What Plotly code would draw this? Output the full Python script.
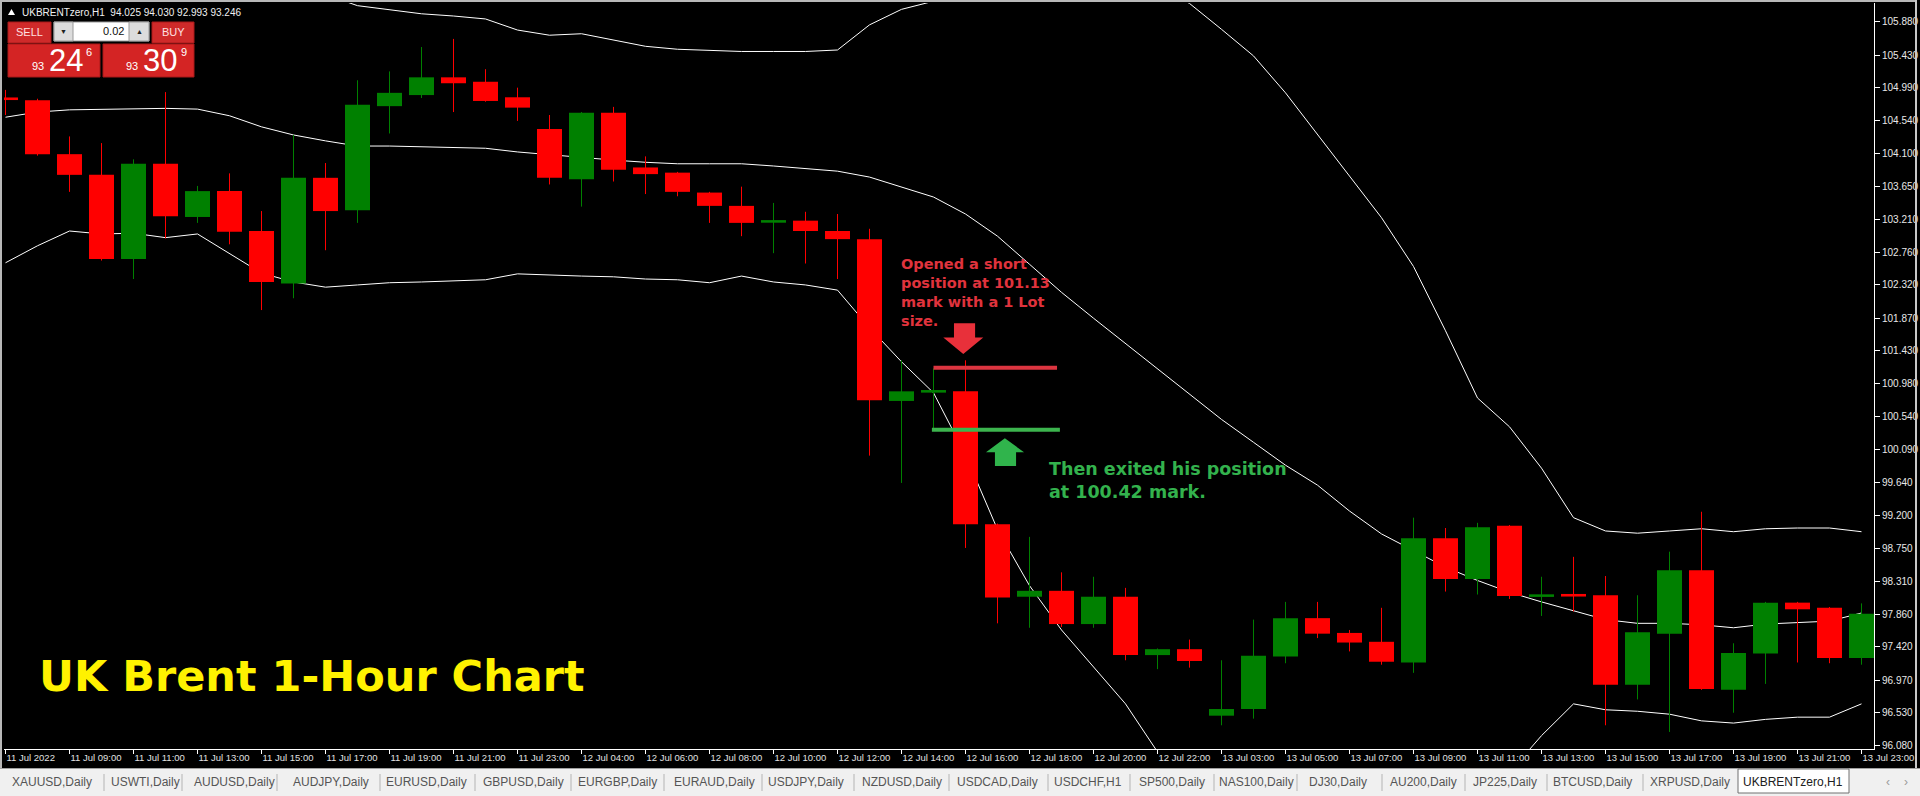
import plotly.graph_objects as go

# ---------------- data ----------------
tick_labels = ["11 Jul 2022", "11 Jul 09:00", "11 Jul 11:00", "11 Jul 13:00", "11 Jul 15:00",
               "11 Jul 17:00", "11 Jul 19:00", "11 Jul 21:00", "11 Jul 23:00", "12 Jul 04:00",
               "12 Jul 06:00", "12 Jul 08:00", "12 Jul 10:00", "12 Jul 12:00", "12 Jul 14:00",
               "12 Jul 16:00", "12 Jul 18:00", "12 Jul 20:00", "12 Jul 22:00", "13 Jul 03:00",
               "13 Jul 05:00", "13 Jul 07:00", "13 Jul 09:00", "13 Jul 11:00", "13 Jul 13:00",
               "13 Jul 15:00", "13 Jul 17:00", "13 Jul 19:00", "13 Jul 21:00", "13 Jul 23:00"]

price_ticks = [105.880, 105.430, 104.990, 104.540, 104.100, 103.650, 103.210, 102.760, 102.320,
               101.870, 101.430, 100.980, 100.540, 100.090, 99.640, 99.200, 98.750, 98.310,
               97.860, 97.420, 96.970, 96.530, 96.080]

open_ = [104.85, 104.82, 104.09, 103.81, 102.67, 103.96, 103.24, 103.59, 103.05, 102.34,
         103.77, 103.33, 104.74, 104.89, 105.13, 105.07, 104.86, 104.43, 103.75, 104.65,
         103.91, 103.84, 103.57, 103.39, 103.17, 103.19, 103.05, 102.94, 100.75, 100.87,
         100.88, 99.08, 98.10, 98.18, 97.73, 98.10, 97.31, 97.39, 96.49, 96.58,
         97.29, 97.81, 97.61, 97.49, 97.21, 98.89, 98.34, 99.06, 98.11, 98.13,
         98.12, 96.91, 97.60, 98.46, 96.84, 97.33, 98.02, 97.95, 97.27]
high_ = [104.96, 104.84, 104.33, 104.24, 104.02, 104.93, 103.66, 103.83, 103.32, 104.35,
         103.97, 105.09, 105.21, 105.54, 105.65, 105.24, 104.99, 104.62, 104.66, 104.73,
         104.06, 103.85, 103.58, 103.65, 103.43, 103.31, 103.28, 103.08, 101.30, 101.19,
         101.30, 99.09, 98.91, 98.43, 98.37, 98.22, 97.40, 97.52, 97.24, 97.79,
         98.03, 98.03, 97.65, 97.95, 99.17, 99.03, 99.10, 99.07, 98.37, 98.64,
         98.38, 98.12, 98.71, 99.25, 97.47, 98.03, 98.03, 97.96, 98.01]
low_ = [104.62, 104.07, 103.58, 102.65, 102.40, 102.95, 103.16, 102.87, 101.98, 102.14,
        102.79, 103.16, 104.37, 104.85, 104.66, 104.80, 104.54, 103.68, 103.38, 103.72,
        103.55, 103.52, 103.16, 102.98, 102.75, 102.61, 102.40, 100.01, 99.64, 100.35,
        98.76, 97.74, 97.68, 97.69, 97.68, 97.24, 97.12, 97.14, 96.36, 96.45,
        97.20, 97.54, 97.36, 97.18, 97.07, 98.17, 98.13, 98.07, 97.84, 97.90,
        96.36, 96.71, 96.27, 96.84, 96.53, 96.92, 97.21, 97.20, 97.18]
close_ = [104.83, 104.09, 103.81, 102.67, 103.96, 103.25, 103.59, 103.04, 102.36, 103.77,
          103.32, 104.76, 104.92, 105.13, 105.05, 104.81, 104.72, 103.77, 104.65, 103.88,
          103.82, 103.58, 103.39, 103.16, 103.19, 103.05, 102.94, 100.76, 100.88, 100.89,
          99.08, 98.09, 98.18, 97.73, 98.10, 97.31, 97.39, 97.23, 96.58, 97.30,
          97.81, 97.60, 97.48, 97.22, 98.89, 98.34, 99.04, 98.11, 98.12, 98.11,
          96.91, 97.62, 98.46, 96.85, 97.34, 98.02, 97.93, 97.27, 97.87]

bb_upper = [106.56, 106.47, 106.33, 106.39, 106.40, 106.46, 106.39, 106.48, 106.44, 106.34,
            106.25, 106.10, 106.04, 105.99, 105.96, 105.92, 105.77, 105.70, 105.72, 105.63,
            105.55, 105.51, 105.49, 105.48, 105.48, 105.48, 105.50, 105.84, 106.05, 106.16,
            106.54, 106.95, 106.95, 106.79, 106.59, 106.41, 106.36, 106.13, 105.78, 105.42,
            104.92, 104.36, 103.79, 103.23, 102.57, 101.70, 100.79, 100.40, 99.84, 99.17,
            98.99, 98.96, 98.99, 99.02, 98.98, 99.02, 99.03, 99.03, 98.98]
bb_middle = [104.59, 104.66, 104.69, 104.70, 104.71, 104.71, 104.70, 104.61, 104.46, 104.35,
             104.27, 104.20, 104.20, 104.19, 104.18, 104.17, 104.12, 104.08, 104.05, 104.01,
             103.98, 103.96, 103.96, 103.96, 103.93, 103.89, 103.86, 103.78, 103.64, 103.51,
             103.28, 102.98, 102.60, 102.22, 101.87, 101.53, 101.18, 100.84, 100.50, 100.19,
             99.88, 99.61, 99.26, 98.95, 98.73, 98.50, 98.32, 98.16, 98.03, 97.91,
             97.79, 97.74, 97.74, 97.72, 97.68, 97.73, 97.75, 97.77, 97.88]
bb_lower = [102.62, 102.85, 103.05, 103.01, 103.02, 102.96, 103.01, 102.74, 102.48, 102.36,
            102.29, 102.32, 102.35, 102.36, 102.37, 102.39, 102.47, 102.45, 102.44, 102.43,
            102.40, 102.39, 102.35, 102.44, 102.36, 102.32, 102.25, 101.74, 101.28, 100.86,
            100.02, 99.01, 98.25, 97.65, 97.15, 96.65, 96.00, 95.55, 95.22, 94.96,
            94.84, 94.86, 94.73, 94.67, 94.89, 95.26, 95.55, 95.72, 96.22, 96.65,
            96.57, 96.55, 96.51, 96.42, 96.39, 96.44, 96.47, 96.47, 96.65]

entry_price_drawn = 101.20   # red horizontal line (labelled 101.13)
exit_price_drawn = 100.36    # green horizontal line (labelled 100.42)

tabs = ["XAUUSD,Daily", "USWTI,Daily", "AUDUSD,Daily", "AUDJPY,Daily", "EURUSD,Daily",
        "GBPUSD,Daily", "EURGBP,Daily", "EURAUD,Daily", "USDJPY,Daily", "NZDUSD,Daily",
        "USDCAD,Daily", "USDCHF,H1", "SP500,Daily", "NAS100,Daily", "DJ30,Daily",
        "AU200,Daily", "JP225,Daily", "BTCUSD,Daily", "XRPUSD,Daily", "UKBRENTzero,H1"]

# ---------------- layout geometry ----------------
W, H = 1920, 796
L, R, T, B = 4, 1874, 3, 749
RED = "#ff0000"
GREEN = "#008000"
n = len(open_)
xs = list(range(n))


def PX(x):
    return (x - L) / (R - L)


def PY(y):
    return (B - y) / (B - T)


fig = go.Figure()

# Bollinger bands
for band in (bb_upper, bb_middle, bb_lower):
    fig.add_trace(go.Scatter(x=xs, y=band, mode="lines", line=dict(color="white", width=1),
                             hoverinfo="skip", showlegend=False))

# wicks and bodies
MIN_BODY = 0.035
for up, col in ((False, RED), (True, GREEN)):
    wx, wy, bx, by = [], [], [], []
    for i in xs:
        if (close_[i] > open_[i]) != up:
            continue
        wx += [i, i, None]
        wy += [low_[i], high_[i], None]
        lo, hi = min(open_[i], close_[i]), max(open_[i], close_[i])
        if hi - lo < MIN_BODY:
            mid = (hi + lo) / 2
            lo, hi = mid - MIN_BODY / 2, mid + MIN_BODY / 2
        bx += [i, i, None]
        by += [lo, hi, None]
    fig.add_trace(go.Scatter(x=wx, y=wy, mode="lines", line=dict(color=col, width=1),
                             hoverinfo="skip", showlegend=False))
    fig.add_trace(go.Scatter(x=bx, y=by, mode="lines", line=dict(color=col, width=25),
                             hoverinfo="skip", showlegend=False))

shapes = []
annotations = []

# trade lines
shapes.append(dict(type="line", xref="x", yref="y", x0=29.0, x1=32.86,
                   y0=entry_price_drawn, y1=entry_price_drawn,
                   line=dict(color="#dc3540", width=4)))
shapes.append(dict(type="line", xref="x", yref="y", x0=28.95, x1=32.95,
                   y0=exit_price_drawn, y1=exit_price_drawn,
                   line=dict(color="#3cb44e", width=4)))


def poly(pts):
    return "M " + " L ".join(f"{a},{b}" for a, b in pts) + " Z"


shapes.append(dict(type="path", xref="x", yref="y",
                   path=poly([(29.64, 101.80), (30.30, 101.80), (30.30, 101.61), (30.556, 101.61),
                              (29.93, 101.385), (29.306, 101.61), (29.64, 101.61)]),
                   fillcolor="#e8303a", line=dict(width=0)))
shapes.append(dict(type="path", xref="x", yref="y",
                   path=poly([(30.92, 99.87), (31.58, 99.87), (31.58, 100.055), (31.83, 100.055),
                              (31.23, 100.244), (30.64, 100.055), (30.92, 100.055)]),
                   fillcolor="#30b44c", line=dict(width=0)))

annotations.append(dict(xref="x", yref="y", x=27.91, y=102.739, xanchor="left", yanchor="top",
                        align="left", showarrow=False,
                        text="<b>Opened a short<br>position at 101.13<br>mark with a 1 Lot<br>size.</b>",
                        font=dict(family="DejaVu Sans", size=14.5, color="#e0333d")))
annotations.append(dict(xref="x", yref="y", x=32.56, y=99.991, xanchor="left", yanchor="top",
                        align="left", showarrow=False,
                        text="<b>Then exited his position<br>at 100.42 mark.</b>",
                        font=dict(family="DejaVu Sans", size=17.5, color="#33b24d")))

# chart title
annotations.append(dict(xref="paper", yref="paper", x=PX(37), y=PY(676), xanchor="left",
                        yanchor="middle", showarrow=False, text="<b>UK Brent 1-Hour Chart</b>",
                        font=dict(family="DejaVu Sans", size=43, color="#fff200")))


def rect(x0, y0, x1, y1, fill, line=None, lw=0):
    shapes.append(dict(type="rect", xref="paper", yref="paper", x0=PX(x0), x1=PX(x1),
                       y0=PY(y1), y1=PY(y0), fillcolor=fill,
                       line=dict(color=line or fill, width=lw), layer="above"))


def hline(x0, x1, y, color, w=1):
    shapes.append(dict(type="line", xref="paper", yref="paper", x0=PX(x0), x1=PX(x1),
                       y0=PY(y), y1=PY(y), line=dict(color=color, width=w)))


def vline(x, y0, y1, color, w=1):
    shapes.append(dict(type="line", xref="paper", yref="paper", x0=PX(x), x1=PX(x),
                       y0=PY(y0), y1=PY(y1), line=dict(color=color, width=w)))


def txt(x, y, s, size, color, anchor="center", family="Liberation Sans"):
    annotations.append(dict(xref="paper", yref="paper", x=PX(x), y=PY(y), text=s,
                            showarrow=False, xanchor=anchor, yanchor="middle",
                            font=dict(family=family, size=size, color=color)))


# window frame
hline(0, 1916, 1, "#b8b8b8", 2)
vline(1, 0, 768, "#b8b8b8", 2)
vline(1916, 0, 768, "#c8c8c8", 2)

# symbol info line
shapes.append(dict(type="path", xref="paper", yref="paper",
                   path=poly([(PX(8), PY(15)), (PX(15), PY(15)), (PX(11.5), PY(9))]),
                   fillcolor="white", line=dict(width=0)))
txt(20, 12, "UKBRENTzero,H1  94.025 94.030 92.993 93.246", 10, "#f0f0f0", anchor="left")

# one-click trading panel
rect(8, 22, 51, 43, "#cf2a2a", "#a81818", 1)
rect(152, 22, 194, 43, "#cf2a2a", "#a81818", 1)
rect(54, 22, 149, 41, "#ffffff", "#9a9a9a", 1)
rect(54, 22, 73, 41, "#dcdcdc", "#9a9a9a", 1)
rect(129, 22, 149, 41, "#dcdcdc", "#9a9a9a", 1)
rect(8, 44, 100, 77, "#d42424", "#a81818", 1)
rect(103, 44, 194, 77, "#d42424", "#a81818", 1)
txt(29.5, 32, "SELL", 11, "#ffe0e0")
txt(173, 32, "BUY", 11, "#ffe0e0")
txt(63.5, 31, "▼", 7, "#202020")
txt(139, 31, "▲", 7, "#202020")
txt(126, 31.5, "0.02", 11, "#101010", anchor="right")
txt(37.5, 66, "93", 11, "white")
txt(65.5, 60, "24", 31, "white")
txt(89, 52, "6", 11, "white")
txt(131.5, 66, "93", 11, "white")
txt(159.5, 60, "30", 31, "white")
txt(183.5, 52, "9", 11, "white")

# bottom tab bar
rect(0, 769, 1920, 796, "#f0f0f0")
hline(0, 1920, 768.5, "#a0a0a0", 1)
tab_centers = [52, 145, 234, 331, 426, 523, 617, 714, 806, 902,
               997, 1088, 1172, 1256, 1338, 1423, 1505, 1592, 1690, 1793]
seps = [104, 182, 277, 380, 475, 571, 664, 762, 854, 949, 1048, 1130, 1214, 1297,
        1382, 1465, 1547, 1643]
for s in seps:
    vline(s, 774, 791, "#b4b4b4", 1)
rect(1738, 769, 1849, 793, "#ffffff", "#707070", 1)
for name, cx in zip(tabs, tab_centers):
    txt(cx, 782, name, 12, "#202020" if name.startswith("UKBRENT") else "#555555")
txt(1888, 782, "‹", 12, "#9a9a9a")
txt(1906, 782, "›", 12, "#9a9a9a")

fig.update_layout(
    width=W, height=H, autosize=False,
    margin=dict(l=L, r=W - R, t=T, b=H - B, pad=0),
    paper_bgcolor="black", plot_bgcolor="black",
    showlegend=False, shapes=shapes, annotations=annotations,
    xaxis=dict(range=[(L - 5.5) / 32, (R - 5.5) / 32], showgrid=False, zeroline=False,
               tickmode="array", tickvals=xs[::2], ticktext=tick_labels,
               ticks="outside", ticklen=4, tickcolor="white", showline=True,
               linecolor="white", linewidth=1, ticklabelposition="outside right",
               ticklabeloverflow="allow", automargin=False, fixedrange=True,
               tickfont=dict(family="Liberation Sans", size=9.5, color="#e0e0e0")),
    yaxis=dict(range=[96.039, 106.136], side="right", showgrid=False, zeroline=False,
               tickmode="array", tickvals=price_ticks,
               ticktext=[f"{v:.3f}" for v in price_ticks],
               ticks="outside", ticklen=5, tickcolor="white", showline=True,
               linecolor="white", linewidth=1, automargin=False, fixedrange=True,
               tickfont=dict(family="Liberation Sans", size=10, color="#e8e8e8")),
)

fig.write_html("out.html", config={"displayModeBar": False},
               post_script="document.body.style.margin='0';document.body.style.overflow='hidden';")
